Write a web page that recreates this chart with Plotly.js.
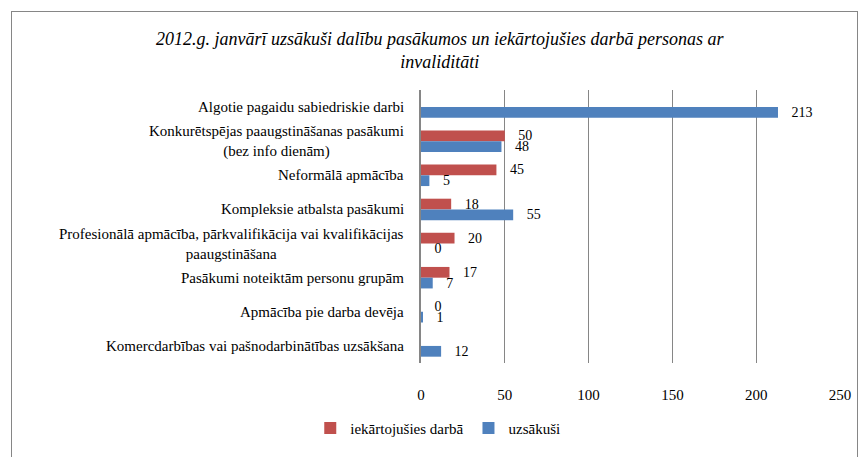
<!DOCTYPE html>
<html><head><meta charset="utf-8">
<script src="https://cdn.plot.ly/plotly-3.0.1.min.js"></script>
<style>
body{margin:0;background:#fff;overflow:hidden}
#w{position:relative;width:862px;height:457px}
#c{width:862px;height:457px}
#frame{position:absolute;left:11px;top:11px;width:845px;height:470px;border:1px solid #868686;pointer-events:none}
</style>
</head><body><div id="w"><div id="c"></div><div id="frame"></div></div>
<script>
const categories = [
  "Algotie pagaidu sabiedriskie darbi",
  "Konkurētspējas paaugstināšanas pasākumi<br>(bez info dienām)",
  "Neformālā apmācība",
  "Kompleksie atbalsta pasākumi",
  "Profesionālā apmācība, pārkvalifikācija vai kvalifikācijas<br>paaugstināšana",
  "Pasākumi noteiktām personu grupām",
  "Apmācība pie darba devēja",
  "Komercdarbības vai pašnodarbinātības uzsākšana"
];
const iekartojusies = [null, 50, 45, 18, 20, 17, 0, null];
const uzsakusi = [213, 48, 5, 55, 0, 7, 1, 12];
const seriesNames = ["iekārtojušies darbā", "uzsākuši"];
const xTicks = [0, 50, 100, 150, 200, 250];
const titleLines = ["2012.g. janvārī uzsākuši dalību pasākumos un iekārtojušies darbā personas ar", "invaliditāti"];

const serif = "Liberation Serif";
const ids = categories.map((c, i) => "c" + i);

const mk = (vals, name, color) => ({
  type: "bar", orientation: "h", name: name,
  y: ids, x: vals,
  marker: {color: color},
  text: vals.map(v => v === null ? "" : "   " + v),
  textposition: "outside", cliponaxis: false, constraintext: "none",
  textfont: {family: serif, size: 14, color: "#000"},
  hoverinfo: "none"
});

const data = [
  mk(iekartojusies, seriesNames[0], "#C0504D"),
  mk(uzsakusi, seriesNames[1], "#4F81BD")
];

const annotations = categories.map((c, i) => ({
  xref: "paper", yref: "y", x: 0, y: ids[i], xanchor: "right", yanchor: "middle",
  xshift: -15, text: c, showarrow: false, align: "center",
  font: {family: serif, size: 15, color: "#000"}
}));

const layout = {
  width: 862, height: 457,
  margin: {l: 421, r: 22, t: 90, b: 87},
  font: {family: serif, color: "#000"},
  title: {text: titleLines.map(t => "<i>" + t + "</i>").join("<br>"),
          xref: "paper", x: 0.045, xanchor: "center",
          yref: "paper", y: 1.15, yanchor: "middle",
          font: {family: serif, size: 18, color: "#000"}},
  barmode: "group", bargap: 0.37,
  xaxis: {range: [0, 250], tickvals: xTicks, showgrid: true, gridcolor: "#868686",
          zeroline: false, ticks: "outside", ticklen: 18, tickcolor: "rgba(0,0,0,0)",
          tickfont: {family: serif, size: 15, color: "#000"}},
  yaxis: {type: "category", autorange: "reversed", showticklabels: false, showgrid: false,
          zeroline: false, showline: true, linecolor: "#868686", linewidth: 2},
  legend: {orientation: "h", x: 0.04, xanchor: "center", y: -0.239, yanchor: "middle",
           font: {family: serif, size: 15, color: "#000"}},
  annotations: annotations
};

Plotly.newPlot("c", data, layout, {displayModeBar: false});
</script></body></html>
